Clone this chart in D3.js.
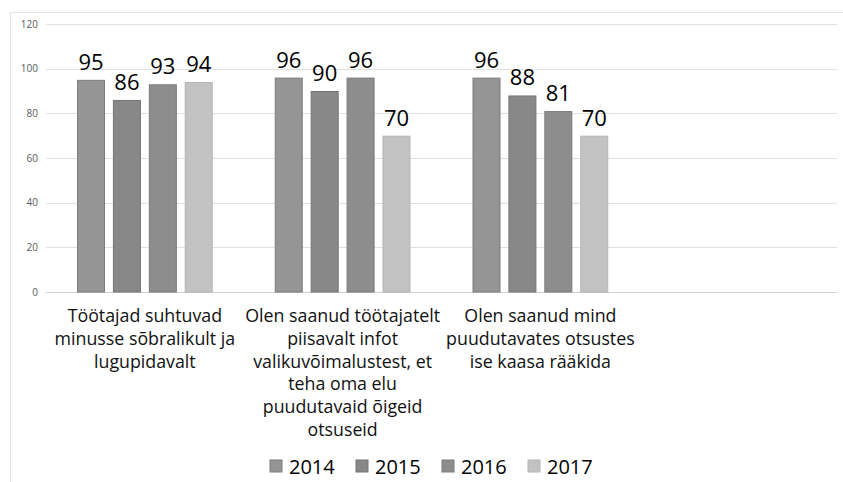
<!DOCTYPE html>
<html>
<head>
<meta charset="utf-8">
<script src="https://cdn.jsdelivr.net/npm/d3@7"></script>
<style>
body { margin: 0; background: #fff; }
svg { display: block; font-family: "Open Sans", sans-serif; }
</style>
</head>
<body>
<div id="chart"></div>
<script>
// data
var categories = ["c1", "c2", "c3", "c4"];
var catLabels = [
	["Töötajad suhtuvad", "minusse sõbralikult ja", "lugupidavalt"],
	["Olen saanud töötajatelt", "piisavalt infot", "valikuvõimalustest, et", "teha oma elu", "puudutavaid õigeid", "otsuseid"],
	["Olen saanud mind", "puudutavates otsustes", "ise kaasa rääkida"],
	[]
];
var years = ["2014", "2015", "2016", "2017"];
var v2014 = [95, 96, 96];
var v2015 = [86, 90, 88];
var v2016 = [93, 96, 81];
var v2017 = [94, 70, 70];
var yTicks = [0, 20, 40, 60, 80, 100, 120];

var series = [v2014, v2015, v2016, v2017];
var fills = ["#959595", "#888888", "#8d8d8d", "#c2c2c2"];
var strokes = ["#7d7d7d", "#747474", "#7a7a7a", "#b4b4b4"];

var w = 843, h = 482;
var svg = d3.select("#chart").append("svg")
	.attr("width", w)
	.attr("height", h);

// chart frame
svg.append("rect")
	.attr("x", 10.5).attr("y", 12.5)
	.attr("width", w + 10).attr("height", h + 10)
	.attr("fill", "none")
	.attr("stroke", "#e3e3e3");

var x = d3.scaleBand().domain(categories).range([46, 837]);
var xi = d3.scaleBand().domain(years).range([31, x.bandwidth() - 31]).paddingInner(0.22);
var y = d3.scaleLinear().domain([0, 120]).range([292, 24]);

// grid
svg.append("g").selectAll("line")
	.data(yTicks)
	.enter()
	.append("line")
	.attr("x1", 46).attr("x2", 837)
	.attr("y1", function(d) { return Math.round(y(d)) + 0.5; })
	.attr("y2", function(d) { return Math.round(y(d)) + 0.5; })
	.style("stroke", function(d) { return d == 0 ? "#d0d0d0" : "#e0e0e0"; })
	.style("stroke-width", 1);

var yAxis = svg.append("g")
	.attr("transform", "translate(38,0)")
	.call(d3.axisLeft(y).tickValues(yTicks).tickSize(0).tickPadding(0));
yAxis.select(".domain").remove();
yAxis.selectAll("text")
	.style("font-size", "10px")
	.style("fill", "#595959")
	.style("font-family", "'Open Sans', sans-serif");

// bars
years.forEach(function(yr, k) {
	var vals = series[k];
	var g = svg.append("g");
	g.selectAll("rect")
		.data(vals)
		.enter()
		.append("rect")
		.attr("x", function(d, i) { return x(categories[i]) + xi(yr) + 0.5; })
		.attr("y", function(d) { return y(d) + 0.5; })
		.attr("width", xi.bandwidth() - 1)
		.attr("height", function(d) { return y(0) - y(d) - 0.5; })
		.style("fill", fills[k])
		.style("stroke", strokes[k])
		.style("stroke-width", 1);
	g.selectAll("text")
		.data(vals)
		.enter()
		.append("text")
		.attr("x", function(d, i) { return x(categories[i]) + xi(yr) + xi.bandwidth() / 2; })
		.attr("y", function(d) { return y(d) - 10; })
		.attr("text-anchor", "middle")
		.style("font-size", "22px")
		.style("fill", "#000")
		.text(function(d) { return d; });
});

// category labels
categories.forEach(function(c, i) {
	var t = svg.append("text")
		.attr("text-anchor", "middle")
		.style("font-size", "17.8px")
		.style("fill", "#111");
	catLabels[i].forEach(function(line, j) {
		t.append("tspan")
			.attr("x", x(c) + x.bandwidth() / 2)
			.attr("y", 322 + j * 22.8)
			.text(line);
	});
});

// legend
var legend = svg.append("g").attr("transform", "translate(270,0)");
years.forEach(function(yr, k) {
	var item = legend.append("g").attr("transform", "translate(" + (k * 86) + ",0)");
	item.append("rect")
		.attr("x", 0).attr("y", 460)
		.attr("width", 12).attr("height", 12)
		.style("fill", fills[k])
		.style("stroke", strokes[k]);
	item.append("text")
		.attr("x", 19).attr("y", 474)
		.style("font-size", "20px")
		.style("fill", "#000")
		.text(yr);
});
</script>
</body>
</html>
